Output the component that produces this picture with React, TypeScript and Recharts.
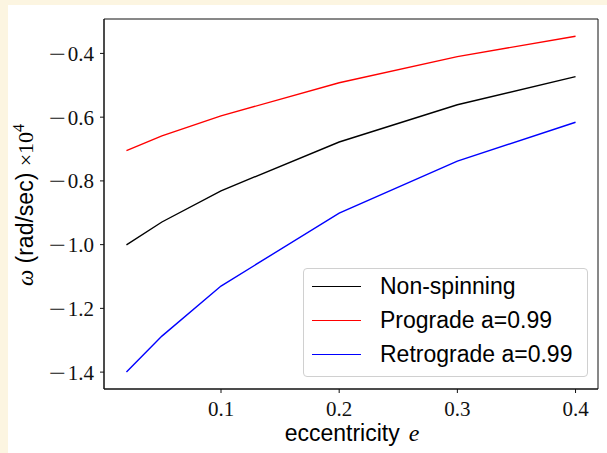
import {
  LineChart,
  Line,
  XAxis,
  YAxis,
  Legend,
  ReferenceArea,
} from 'recharts';

// orbital frequency vs eccentricity, three spin cases
const eccentricity = [0.02, 0.05, 0.1, 0.2, 0.3, 0.4];
const nonSpinning = [-1.001, -0.929, -0.831, -0.678, -0.561, -0.473];
const prograde = [-0.705, -0.659, -0.596, -0.492, -0.41, -0.346];
const retrograde = [-1.4, -1.287, -1.13, -0.901, -0.738, -0.616];

const xTicks = [0.1, 0.2, 0.3, 0.4];
const yTicks = [-1.4, -1.2, -1.0, -0.8, -0.6, -0.4];

const X_MIN = 0.001;
const X_MAX = 0.419;
const Y_MIN = -1.453;
const Y_MAX = -0.292;

const rows = eccentricity.map((e, i) => ({
  e,
  nonSpinning: nonSpinning[i],
  prograde: prograde[i],
  retrograde: retrograde[i],
}));

const serif = '"Liberation Serif", "DejaVu Serif", serif';
const sans = '"Liberation Sans", Arial, sans-serif';

const fmtX = (v: number) => v.toFixed(1);

// y tick with a long TeX-style minus sign
function YTick({ x, y, payload }: any) {
  const v: number = payload.value;
  return (
    <text
      x={x}
      y={y}
      dy="0.36em"
      textAnchor="end"
      fontFamily={serif}
      fontSize={21}
      fill="#111"
    >
      {v < 0 && (
        <tspan textLength={17} lengthAdjust="spacingAndGlyphs">
          {'\u2212'}
        </tspan>
      )}
      <tspan dx={2}>{Math.abs(v).toFixed(1)}</tspan>
    </text>
  );
}

function LegendBox({ payload }: any) {
  return (
    <div
      style={{
        boxSizing: 'border-box',
        width: 285,
        height: 109,
        border: '1px solid #d0d0d0',
        borderRadius: 4,
        background: 'rgba(255,255,255,0.8)',
        fontFamily: sans,
        fontSize: 23,
        color: '#000',
      }}
    >
      {(payload || []).map((p: any) => (
        <div
          key={p.value}
          style={{ height: 34, display: 'flex', alignItems: 'center', position: 'relative' }}
        >
          <div
            style={{
              position: 'absolute',
              left: 8,
              width: 49,
              height: 0,
              borderTop: `1.4px solid ${p.color}`,
            }}
          />
          <span style={{ position: 'absolute', left: 76, lineHeight: '34px' }}>{p.value}</span>
        </div>
      ))}
    </div>
  );
}

function YLabel() {
  return (
    <text x={25} y={200} transform="rotate(-90 25 200)" textAnchor="middle" fill="#000">
      <tspan fontFamily={serif} fontStyle="italic" fontSize={23}>ω</tspan>
      <tspan fontFamily={sans} fontSize={23}> (rad/sec) </tspan>
      <tspan fontFamily={serif} fontSize={22}>×10</tspan>
      <tspan fontFamily={serif} fontSize={16} dy={-9}>4</tspan>
    </text>
  );
}

function XLabel() {
  return (
    <text x={344} y={436} textAnchor="middle" fill="#000">
      <tspan fontFamily={sans} fontSize={23}>eccentricity</tspan>
      <tspan fontFamily={serif} fontStyle="italic" fontSize={24} dx={9}>e</tspan>
    </text>
  );
}

export default function App() {
  return (
    <div style={{ position: 'fixed', inset: 0, background: '#fcf5e1' }}>
      <div
        style={{
          position: 'absolute',
          left: 8,
          top: 5,
          width: 599,
          height: 448,
          background: '#fff',
        }}
      >
        <LineChart
          width={599}
          height={448}
          data={rows}
          margin={{ top: 14, right: 9, bottom: 0, left: 0 }}
        >
          <XAxis
            dataKey="e"
            type="number"
            domain={[X_MIN, X_MAX]}
            ticks={xTicks}
            tickFormatter={fmtX}
            allowDataOverflow
            height={64}
            axisLine={{ stroke: '#111', strokeWidth: 1 }}
            tickLine={{ stroke: '#111' }}
            tickSize={4}
            tickMargin={8}
            tick={{ fontFamily: serif, fontSize: 21, fill: '#111' }}
            label={<XLabel />}
          />
          <YAxis
            type="number"
            domain={[Y_MIN, Y_MAX]}
            ticks={yTicks}
            allowDataOverflow
            width={96}
            axisLine={{ stroke: '#111', strokeWidth: 1 }}
            tickLine={{ stroke: '#111' }}
            tickSize={4}
            tickMargin={6}
            tick={<YTick />}
            label={<YLabel />}
          />
          <ReferenceArea
            x1={X_MIN}
            x2={X_MAX}
            y1={Y_MIN}
            y2={Y_MAX}
            fill="none"
            stroke="#111"
            strokeWidth={1}
            ifOverflow="visible"
          />
          <Line
            type="linear"
            dataKey="nonSpinning"
            name="Non-spinning"
            stroke="#000000"
            strokeWidth={1.4}
            dot={false}
            isAnimationActive={false}
          />
          <Line
            type="linear"
            dataKey="prograde"
            name="Prograde a=0.99"
            stroke="#ff0000"
            strokeWidth={1.4}
            dot={false}
            isAnimationActive={false}
          />
          <Line
            type="linear"
            dataKey="retrograde"
            name="Retrograde a=0.99"
            stroke="#0000ff"
            strokeWidth={1.4}
            dot={false}
            isAnimationActive={false}
          />
          <Legend
            layout="vertical"
            align="center"
            verticalAlign="middle"
            width={285}
            wrapperStyle={{ top: 263, left: 295, width: 285 }}
            content={<LegendBox />}
          />
        </LineChart>
      </div>
    </div>
  );
}
